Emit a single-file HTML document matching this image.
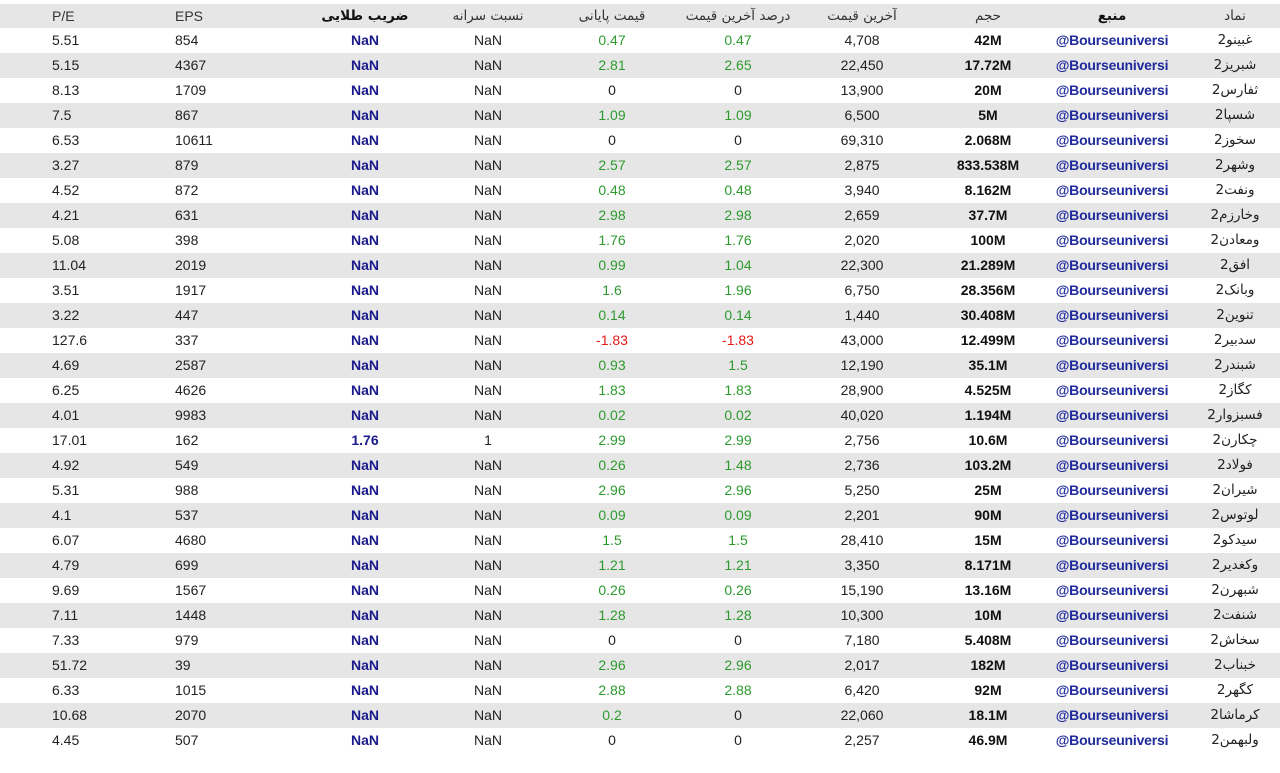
<!DOCTYPE html>
<html><head><meta charset="utf-8"><style>
body{margin:0;width:1280px;height:773px;background:#fff;font-family:"Liberation Sans","DejaVu Sans",sans-serif;font-size:14px;color:#222;position:relative;overflow:hidden}
.h,.r{position:absolute;left:0;width:1280px;height:25px;line-height:25px}
.h{top:4px;height:24px;line-height:24px;background:#e6e6e6;font-family:"DejaVu Sans",sans-serif;font-size:13.5px;color:#333}
.g{background:#e6e6e6}
.r span,.h span{position:absolute;white-space:nowrap;transform:translateX(-50%);unicode-bidi:isolate}
.r .a,.h .a{left:52px;transform:none}
.r .b,.h .b{left:175px;transform:none}
.h .a,.h .b{font-family:"Liberation Sans",sans-serif;font-size:14px}
.c{left:365px}.d{left:488px}.e{left:612px}.f{left:738px}.k{left:862px}.v{left:988px}.s{left:1112px}.n{left:1235px}
.r .c{font-weight:bold;color:#1a1a8c}
.r .v{font-weight:bold;color:#111}
.r .s{font-weight:bold;color:#1f2a9c;letter-spacing:-0.2px}
.r .n{font-family:"DejaVu Sans",sans-serif;font-size:13.5px}
.h .c,.h .s{font-weight:bold;color:#111}
.gr{color:#2e9a2e}.rd{color:#e21b1b}
</style></head><body>
<div class="h"><span class="a">P/E</span><span class="b">EPS</span><span class="c">ضریب طلایی</span><span class="d">نسبت سرانه</span><span class="e">قیمت پایانی</span><span class="f">درصد آخرین قیمت</span><span class="k">آخرین قیمت</span><span class="v">حجم</span><span class="s">منبع</span><span class="n">نماد</span></div>

<div class="r" style="top:28px"><span class="a">5.51</span><span class="b">854</span><span class="c">NaN</span><span class="d">NaN</span><span class="e gr">0.47</span><span class="f gr">0.47</span><span class="k">4,708</span><span class="v">42M</span><span class="s">@Bourseuniversi</span><span class="n">غبینو2</span></div>
<div class="r g" style="top:53px"><span class="a">5.15</span><span class="b">4367</span><span class="c">NaN</span><span class="d">NaN</span><span class="e gr">2.81</span><span class="f gr">2.65</span><span class="k">22,450</span><span class="v">17.72M</span><span class="s">@Bourseuniversi</span><span class="n">شبریز2</span></div>
<div class="r" style="top:78px"><span class="a">8.13</span><span class="b">1709</span><span class="c">NaN</span><span class="d">NaN</span><span class="e">0</span><span class="f">0</span><span class="k">13,900</span><span class="v">20M</span><span class="s">@Bourseuniversi</span><span class="n">ثفارس2</span></div>
<div class="r g" style="top:103px"><span class="a">7.5</span><span class="b">867</span><span class="c">NaN</span><span class="d">NaN</span><span class="e gr">1.09</span><span class="f gr">1.09</span><span class="k">6,500</span><span class="v">5M</span><span class="s">@Bourseuniversi</span><span class="n">شسپا2</span></div>
<div class="r" style="top:128px"><span class="a">6.53</span><span class="b">10611</span><span class="c">NaN</span><span class="d">NaN</span><span class="e">0</span><span class="f">0</span><span class="k">69,310</span><span class="v">2.068M</span><span class="s">@Bourseuniversi</span><span class="n">سخوز2</span></div>
<div class="r g" style="top:153px"><span class="a">3.27</span><span class="b">879</span><span class="c">NaN</span><span class="d">NaN</span><span class="e gr">2.57</span><span class="f gr">2.57</span><span class="k">2,875</span><span class="v">833.538M</span><span class="s">@Bourseuniversi</span><span class="n">وشهر2</span></div>
<div class="r" style="top:178px"><span class="a">4.52</span><span class="b">872</span><span class="c">NaN</span><span class="d">NaN</span><span class="e gr">0.48</span><span class="f gr">0.48</span><span class="k">3,940</span><span class="v">8.162M</span><span class="s">@Bourseuniversi</span><span class="n">ونفت2</span></div>
<div class="r g" style="top:203px"><span class="a">4.21</span><span class="b">631</span><span class="c">NaN</span><span class="d">NaN</span><span class="e gr">2.98</span><span class="f gr">2.98</span><span class="k">2,659</span><span class="v">37.7M</span><span class="s">@Bourseuniversi</span><span class="n">وخارزم2</span></div>
<div class="r" style="top:228px"><span class="a">5.08</span><span class="b">398</span><span class="c">NaN</span><span class="d">NaN</span><span class="e gr">1.76</span><span class="f gr">1.76</span><span class="k">2,020</span><span class="v">100M</span><span class="s">@Bourseuniversi</span><span class="n">ومعادن2</span></div>
<div class="r g" style="top:253px"><span class="a">11.04</span><span class="b">2019</span><span class="c">NaN</span><span class="d">NaN</span><span class="e gr">0.99</span><span class="f gr">1.04</span><span class="k">22,300</span><span class="v">21.289M</span><span class="s">@Bourseuniversi</span><span class="n">افق2</span></div>
<div class="r" style="top:278px"><span class="a">3.51</span><span class="b">1917</span><span class="c">NaN</span><span class="d">NaN</span><span class="e gr">1.6</span><span class="f gr">1.96</span><span class="k">6,750</span><span class="v">28.356M</span><span class="s">@Bourseuniversi</span><span class="n">وبانک2</span></div>
<div class="r g" style="top:303px"><span class="a">3.22</span><span class="b">447</span><span class="c">NaN</span><span class="d">NaN</span><span class="e gr">0.14</span><span class="f gr">0.14</span><span class="k">1,440</span><span class="v">30.408M</span><span class="s">@Bourseuniversi</span><span class="n">تنوین2</span></div>
<div class="r" style="top:328px"><span class="a">127.6</span><span class="b">337</span><span class="c">NaN</span><span class="d">NaN</span><span class="e rd">-1.83</span><span class="f rd">-1.83</span><span class="k">43,000</span><span class="v">12.499M</span><span class="s">@Bourseuniversi</span><span class="n">سدبیر2</span></div>
<div class="r g" style="top:353px"><span class="a">4.69</span><span class="b">2587</span><span class="c">NaN</span><span class="d">NaN</span><span class="e gr">0.93</span><span class="f gr">1.5</span><span class="k">12,190</span><span class="v">35.1M</span><span class="s">@Bourseuniversi</span><span class="n">شبندر2</span></div>
<div class="r" style="top:378px"><span class="a">6.25</span><span class="b">4626</span><span class="c">NaN</span><span class="d">NaN</span><span class="e gr">1.83</span><span class="f gr">1.83</span><span class="k">28,900</span><span class="v">4.525M</span><span class="s">@Bourseuniversi</span><span class="n">کگاز2</span></div>
<div class="r g" style="top:403px"><span class="a">4.01</span><span class="b">9983</span><span class="c">NaN</span><span class="d">NaN</span><span class="e gr">0.02</span><span class="f gr">0.02</span><span class="k">40,020</span><span class="v">1.194M</span><span class="s">@Bourseuniversi</span><span class="n">فسبزوار2</span></div>
<div class="r" style="top:428px"><span class="a">17.01</span><span class="b">162</span><span class="c">1.76</span><span class="d">1</span><span class="e gr">2.99</span><span class="f gr">2.99</span><span class="k">2,756</span><span class="v">10.6M</span><span class="s">@Bourseuniversi</span><span class="n">چکارن2</span></div>
<div class="r g" style="top:453px"><span class="a">4.92</span><span class="b">549</span><span class="c">NaN</span><span class="d">NaN</span><span class="e gr">0.26</span><span class="f gr">1.48</span><span class="k">2,736</span><span class="v">103.2M</span><span class="s">@Bourseuniversi</span><span class="n">فولاد2</span></div>
<div class="r" style="top:478px"><span class="a">5.31</span><span class="b">988</span><span class="c">NaN</span><span class="d">NaN</span><span class="e gr">2.96</span><span class="f gr">2.96</span><span class="k">5,250</span><span class="v">25M</span><span class="s">@Bourseuniversi</span><span class="n">شیران2</span></div>
<div class="r g" style="top:503px"><span class="a">4.1</span><span class="b">537</span><span class="c">NaN</span><span class="d">NaN</span><span class="e gr">0.09</span><span class="f gr">0.09</span><span class="k">2,201</span><span class="v">90M</span><span class="s">@Bourseuniversi</span><span class="n">لوتوس2</span></div>
<div class="r" style="top:528px"><span class="a">6.07</span><span class="b">4680</span><span class="c">NaN</span><span class="d">NaN</span><span class="e gr">1.5</span><span class="f gr">1.5</span><span class="k">28,410</span><span class="v">15M</span><span class="s">@Bourseuniversi</span><span class="n">سیدکو2</span></div>
<div class="r g" style="top:553px"><span class="a">4.79</span><span class="b">699</span><span class="c">NaN</span><span class="d">NaN</span><span class="e gr">1.21</span><span class="f gr">1.21</span><span class="k">3,350</span><span class="v">8.171M</span><span class="s">@Bourseuniversi</span><span class="n">وکغدیر2</span></div>
<div class="r" style="top:578px"><span class="a">9.69</span><span class="b">1567</span><span class="c">NaN</span><span class="d">NaN</span><span class="e gr">0.26</span><span class="f gr">0.26</span><span class="k">15,190</span><span class="v">13.16M</span><span class="s">@Bourseuniversi</span><span class="n">شبهرن2</span></div>
<div class="r g" style="top:603px"><span class="a">7.11</span><span class="b">1448</span><span class="c">NaN</span><span class="d">NaN</span><span class="e gr">1.28</span><span class="f gr">1.28</span><span class="k">10,300</span><span class="v">10M</span><span class="s">@Bourseuniversi</span><span class="n">شنفت2</span></div>
<div class="r" style="top:628px"><span class="a">7.33</span><span class="b">979</span><span class="c">NaN</span><span class="d">NaN</span><span class="e">0</span><span class="f">0</span><span class="k">7,180</span><span class="v">5.408M</span><span class="s">@Bourseuniversi</span><span class="n">سخاش2</span></div>
<div class="r g" style="top:653px"><span class="a">51.72</span><span class="b">39</span><span class="c">NaN</span><span class="d">NaN</span><span class="e gr">2.96</span><span class="f gr">2.96</span><span class="k">2,017</span><span class="v">182M</span><span class="s">@Bourseuniversi</span><span class="n">خبناب2</span></div>
<div class="r" style="top:678px"><span class="a">6.33</span><span class="b">1015</span><span class="c">NaN</span><span class="d">NaN</span><span class="e gr">2.88</span><span class="f gr">2.88</span><span class="k">6,420</span><span class="v">92M</span><span class="s">@Bourseuniversi</span><span class="n">کگهر2</span></div>
<div class="r g" style="top:703px"><span class="a">10.68</span><span class="b">2070</span><span class="c">NaN</span><span class="d">NaN</span><span class="e gr">0.2</span><span class="f">0</span><span class="k">22,060</span><span class="v">18.1M</span><span class="s">@Bourseuniversi</span><span class="n">کرماشا2</span></div>
<div class="r" style="top:728px"><span class="a">4.45</span><span class="b">507</span><span class="c">NaN</span><span class="d">NaN</span><span class="e">0</span><span class="f">0</span><span class="k">2,257</span><span class="v">46.9M</span><span class="s">@Bourseuniversi</span><span class="n">ولبهمن2</span></div>
</body></html>
